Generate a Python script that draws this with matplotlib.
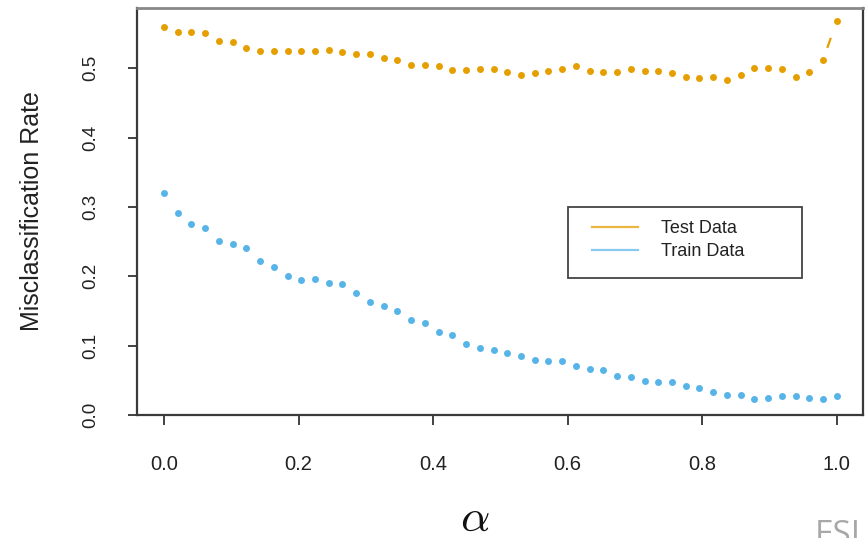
import numpy as np
import matplotlib
matplotlib.use("Agg")
import matplotlib.pyplot as plt
from matplotlib.lines import Line2D
from matplotlib.patches import Rectangle

plt.rcParams['font.family'] = ['Liberation Sans', 'DejaVu Sans']
plt.rcParams['mathtext.fontset'] = 'cm'

# ---- data ----
alpha = np.linspace(0, 1, 50)
test_err = [0.560, 0.553, 0.553, 0.551, 0.540, 0.538, 0.529, 0.525, 0.525, 0.525,
            0.525, 0.525, 0.527, 0.523, 0.520, 0.520, 0.515, 0.512, 0.505, 0.505,
            0.503, 0.497, 0.497, 0.499, 0.499, 0.4945, 0.4896, 0.4925, 0.4968, 0.4988,
            0.503, 0.4968, 0.4945, 0.4945, 0.4988, 0.4968, 0.4968, 0.4925, 0.4877, 0.4853,
            0.4877, 0.4834, 0.4896, 0.5007, 0.5007, 0.4988, 0.4877, 0.4945, 0.5118, 0.568]
train_err = [0.320, 0.291, 0.276, 0.269, 0.2515, 0.2463, 0.2405, 0.2218, 0.214, 0.2006,
             0.1953, 0.1967, 0.1909, 0.1895, 0.176, 0.1626, 0.1573, 0.150, 0.1366, 0.1328,
             0.1193, 0.1159, 0.1029, 0.0972, 0.0943, 0.089, 0.0856, 0.0794, 0.078, 0.078,
             0.0707, 0.0664, 0.0645, 0.0568, 0.0548, 0.0495, 0.0476, 0.0476, 0.0418, 0.0385,
             0.0327, 0.0284, 0.0284, 0.0226, 0.0245, 0.027, 0.027, 0.0245, 0.0226, 0.027]
series_labels = ["Test Data", "Train Data"]
x_ticks = [0.0, 0.2, 0.4, 0.6, 0.8, 1.0]
x_ticklabels = ["0.0", "0.2", "0.4", "0.6", "0.8", "1.0"]
y_ticks = [0.0, 0.1, 0.2, 0.3, 0.4, 0.5]
y_ticklabels = ["0.0", "0.1", "0.2", "0.3", "0.4", "0.5"]

c_test = '#E69F00'
c_train = '#56B4E9'

W, H = 868, 538
fig = plt.figure(figsize=(W / 100, H / 100), dpi=100)
ax = fig.add_axes([137.3 / W, 1 - 415 / H, (863.3 - 137.3) / W, (415 - 8.3) / H])

ax.plot(alpha, test_err, linestyle='none', marker='o', ms=5.0, mec='none', color=c_test)
ax.plot(alpha, train_err, linestyle='none', marker='o', ms=5.0, mec='none', color=c_train)
# dash piece of the dotted line on the last steep segment
lw_d = 1.6
ax.plot(alpha[-2:], test_err[-2:], color=c_test, lw=lw_d,
        linestyle=(28.4 / lw_d, (7.7 / lw_d, 30 / lw_d)), dash_capstyle='butt')

ax.set_xlim(-0.0397, 1.0395)
ax.set_ylim(0.0, 0.5865)

ax.set_xticks(x_ticks)
ax.set_xticklabels(x_ticklabels, fontsize=14.5, color='#222222')
ax.set_yticks(y_ticks)
ax.set_yticklabels(y_ticklabels, fontsize=13.5, color='#222222', rotation=90, va='center')
ax.tick_params(axis='x', length=7, width=1.3, color='#333333', pad=22)
ax.tick_params(axis='y', length=6.5, width=1.3, color='#333333', pad=21)

for s in ax.spines.values():
    s.set_color('#3a3a3a')
    s.set_linewidth(1.6)
ax.spines['top'].set_color('#888888')
ax.spines['top'].set_linewidth(2.0)

# axis labels
fig.text(32 / W, 1 - 211.5 / H, "Misclassification Rate", rotation=90,
         ha='center', va='center', fontsize=18, color='#222222')
fig.text(475 / W, 1 - 531 / H, r'$\alpha$', ha='center', va='baseline',
         fontsize=33, color='#111111')

# legend
handles = [Line2D([0], [0], color=c_test, lw=1.6, alpha=0.75),
           Line2D([0], [0], color=c_train, lw=1.6, alpha=0.7)]
leg = ax.legend(handles, series_labels, loc='center left',
                bbox_to_anchor=((591.7 - 137.3) / 726, (415 - 240.2) / 406.7),
                frameon=False, fontsize=13, borderpad=0, borderaxespad=0,
                handlelength=2.55, handletextpad=1.3, labelspacing=0.32)
for t in leg.get_texts():
    t.set_color('#222222')
ax.add_patch(Rectangle(((567.7 - 137.3) / 726, (415 - 278.3) / 406.7),
                       234.6 / 726, 71.6 / 406.7, transform=ax.transAxes,
                       fill=False, edgecolor='#444444', lw=1.3, zorder=5))

# watermark (partly cut off at the bottom edge, as in the reference)
fig.text(815 / W, 1 - 544 / H, "ESL", ha='left', va='baseline', fontsize=24,
         family=['Open Sans', 'Liberation Sans'], color='#a8a8a8')

fig.savefig("out.png", dpi=100)
